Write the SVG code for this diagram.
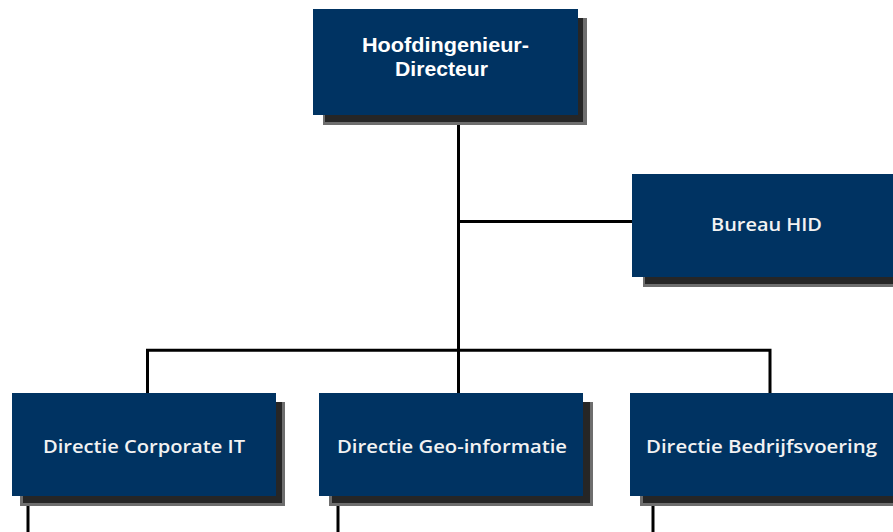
<svg xmlns="http://www.w3.org/2000/svg" width="893" height="532" viewBox="0 0 893 532">
<style>
.sh1{fill:#6e6e6e}
.sh2{fill:#262626}
.box{fill:#003362}
.t{font-family:"Open Sans","Liberation Sans",sans-serif;font-size:18px;font-weight:600;fill:#f2f2f2}
.tb{font-family:"Liberation Sans","Open Sans",sans-serif;font-size:20px;font-weight:bold;fill:#ffffff}
.ln{stroke:#000;stroke-width:3;fill:none}
</style>
<rect width="893" height="532" fill="#ffffff"/>
<g id="connectors">
<path class="ln" d="M458.5 115 V350"/>
<path class="ln" d="M458.5 221.5 H632"/>
<path class="ln" d="M147.5 393 V350.3 H770 V393" stroke-width="2.5"/>
<path class="ln" d="M458.5 350 V393"/>
<path class="ln" d="M28 496 V532"/>
<path class="ln" d="M338 496 V532"/>
<path class="ln" d="M653 496 V532"/>
</g>
<g id="node-hid">
<rect class="sh1" x="323" y="18" width="264" height="107"/>
<rect class="sh2" x="325" y="18" width="258" height="104"/>
<rect class="box" x="313" y="9" width="265" height="106"/>
<text class="tb" x="445.5" y="52" text-anchor="middle" textLength="167" lengthAdjust="spacingAndGlyphs">Hoofdingenieur-</text>
<text class="tb" x="441.5" y="76" text-anchor="middle" textLength="93" lengthAdjust="spacingAndGlyphs">Directeur</text>
</g>
<g id="node-bureau">
<rect class="sh1" x="643" y="184" width="260" height="103"/>
<rect class="sh2" x="645" y="184" width="260" height="100"/>
<rect class="box" x="632" y="174" width="270" height="103"/>
<text class="t" x="766.5" y="231" text-anchor="middle" textLength="111" lengthAdjust="spacingAndGlyphs">Bureau HID</text>
</g>
<g id="node-cit">
<rect class="sh1" x="20" y="402" width="265" height="104"/>
<rect class="sh2" x="23" y="402" width="259" height="101"/>
<rect class="box" x="12" y="393" width="264" height="103"/>
<text class="t" x="144" y="453" text-anchor="middle" textLength="202" lengthAdjust="spacingAndGlyphs">Directie Corporate IT</text>
</g>
<g id="node-geo">
<rect class="sh1" x="329" y="402" width="264" height="104"/>
<rect class="sh2" x="332" y="402" width="258" height="101"/>
<rect class="box" x="319" y="393" width="264" height="103"/>
<text class="t" x="452" y="453" text-anchor="middle" textLength="230" lengthAdjust="spacingAndGlyphs">Directie Geo-informatie</text>
</g>
<g id="node-bv">
<rect class="sh1" x="640" y="402" width="270" height="104"/>
<rect class="sh2" x="643" y="402" width="270" height="101"/>
<rect class="box" x="630" y="393" width="270" height="103"/>
<text class="t" x="761.5" y="453" text-anchor="middle" textLength="231" lengthAdjust="spacingAndGlyphs">Directie Bedrijfsvoering</text>
</g>
</svg>
